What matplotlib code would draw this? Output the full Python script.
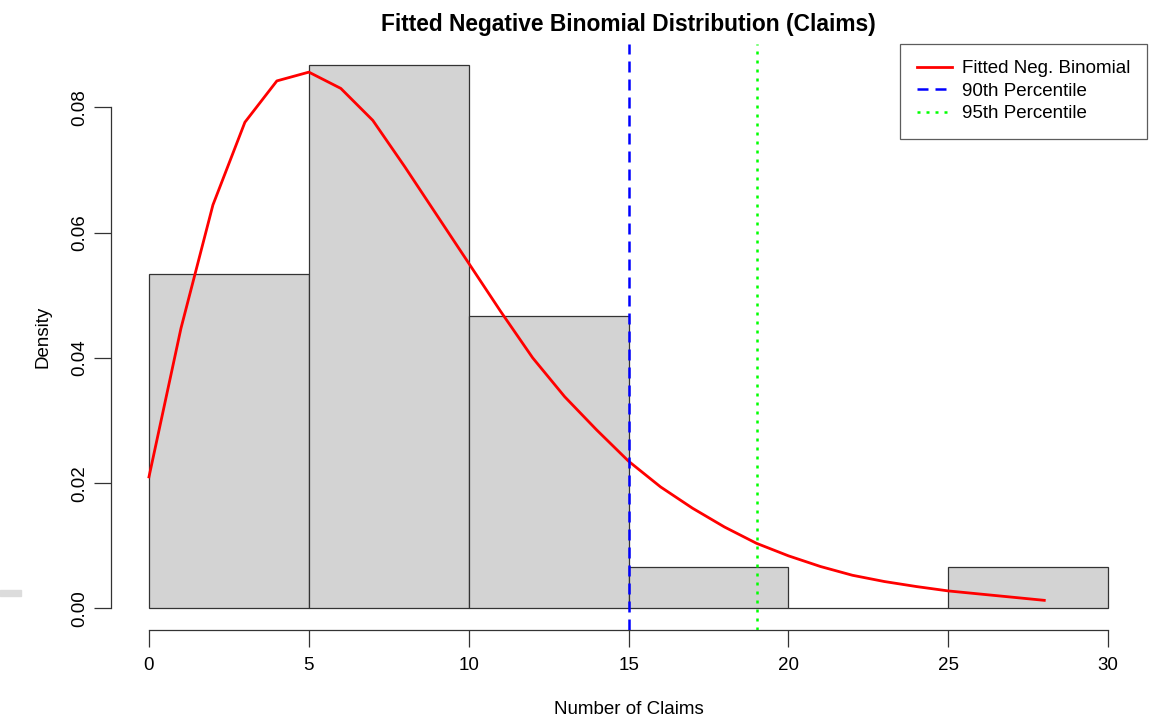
import matplotlib
matplotlib.use("Agg")
import matplotlib.pyplot as plt
from matplotlib.patches import Rectangle
import numpy as np

# Histogram data (density per bin, bin width 5)
bin_edges = [0, 5, 10, 15, 20, 25, 30]
bin_density = [0.05333, 0.08667, 0.04667, 0.00667, 0.0, 0.00667]

# Fitted negative binomial pmf
nb_x = list(range(0, 29))
nb_y = [0.0210, 0.0447, 0.0644, 0.0776, 0.0842, 0.0856, 0.0830, 0.0779,
        0.0705, 0.0628, 0.0551, 0.0474, 0.0400, 0.0338, 0.0285, 0.0235,
        0.0194, 0.0160, 0.0130, 0.0104, 0.0084, 0.0067, 0.0053, 0.0043,
        0.0035, 0.0028, 0.0023, 0.0018, 0.0013]

p90 = 15
p95 = 19

x_ticks = [0, 5, 10, 15, 20, 25, 30]
y_ticks = [0.00, 0.02, 0.04, 0.06, 0.08]
y_tick_labels = ["0.00", "0.02", "0.04", "0.06", "0.08"]

plt.rcParams['font.family'] = ['Liberation Sans', 'DejaVu Sans']

fig = plt.figure(figsize=(11.52, 7.2), dpi=100)
ax = fig.add_axes([110.6/1152, 1 - 630.2/720, (1146.6-110.6)/1152, (630.2-43.7)/720])

widths = np.diff(bin_edges)
ax.bar(bin_edges[:-1], bin_density, width=widths, align='edge',
       color='#d3d3d3', edgecolor='#333333', linewidth=0.9, zorder=1)

ax.plot(nb_x, nb_y, color='red', lw=2.0, zorder=3, label='Fitted Neg. Binomial')
ax.axvline(p90, color='blue', lw=1.8, ls=(0, (4.4, 2.8)), zorder=4, label='90th Percentile')
ax.axvline(p95, color='#00ff00', lw=1.8, ls=(0, (1.2, 2.4)), zorder=4, label='95th Percentile')

ymax = max(bin_density)
ax.set_xlim(-1.2, 31.2)
ax.set_ylim(-0.04*ymax, ymax*1.04)

for s in ['top', 'right']:
    ax.spines[s].set_visible(False)
ax.spines['left'].set_bounds(0, 0.08)
ax.spines['bottom'].set_bounds(0, 30)
for s in ['left', 'bottom']:
    ax.spines[s].set_color('#333333')
    ax.spines[s].set_linewidth(0.9)

ax.set_xticks(x_ticks)
ax.set_yticks(y_ticks)
ax.set_yticklabels(y_tick_labels, rotation=90, va='center')
ax.tick_params(axis='both', direction='out', length=12, width=0.9,
               color='#333333', labelsize=13.5)
ax.tick_params(axis='x', pad=7.5)
ax.tick_params(axis='y', pad=4)

ax.set_xlabel('Number of Claims', fontsize=13.5, labelpad=19)
ax.set_ylabel('Density', fontsize=13.5, labelpad=14)
ax.set_title('Fitted Negative Binomial Distribution (Claims)', fontsize=16.4,
             fontweight='bold', pad=9)

leg = ax.legend(loc='upper right', fontsize=13.5, frameon=True, fancybox=False,
                edgecolor='#333333', borderpad=0.88, handlelength=1.9,
                handletextpad=0.5, labelspacing=0.28,
                bbox_to_anchor=(1.0, 1.0), borderaxespad=0)
leg.get_frame().set_linewidth(0.9)

# small grey artifact at left edge
fig.patches.append(Rectangle((0, 1 - 596/720), 21/1152, 6/720,
                             transform=fig.transFigure, color='#dcdcdc'))

fig.savefig('out.png', dpi=100)
